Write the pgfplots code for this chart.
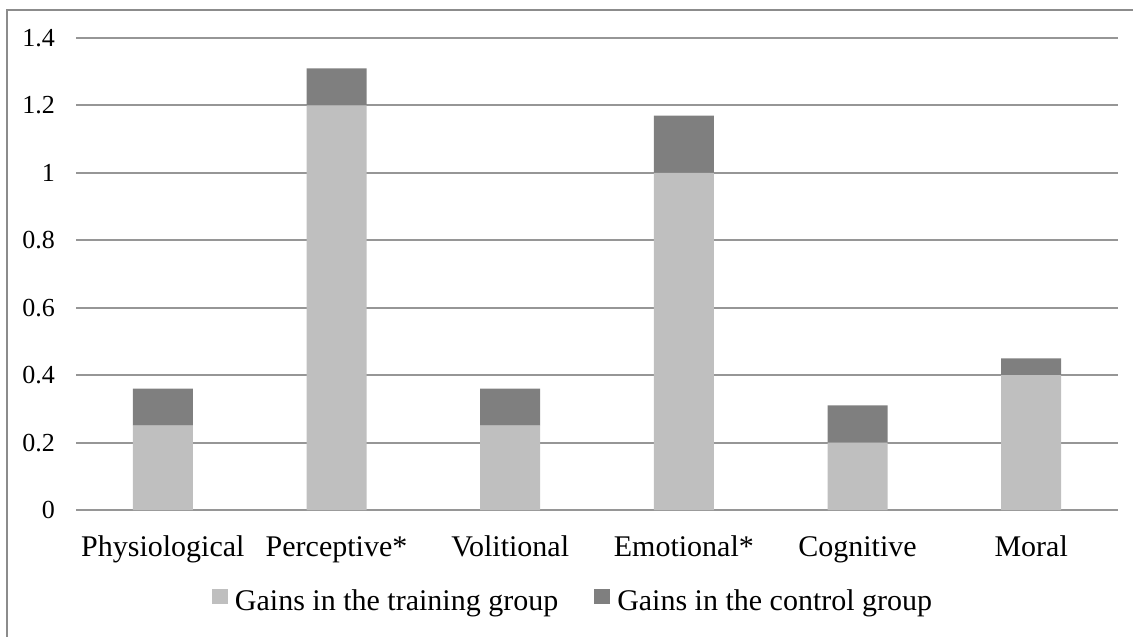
\documentclass[border=0pt]{standalone}
\usepackage{pgfplots}
\pgfplotsset{compat=1.18}
\usepackage{fontspec}
\setmainfont{Liberation Serif}
\definecolor{lightbar}{RGB}{191,191,191}
\definecolor{darkbar}{RGB}{127,127,127}
\definecolor{gridcol}{RGB}{150,150,150}
\definecolor{framecol}{RGB}{140,140,140}
\begin{document}
\begin{tikzpicture}
\draw[framecol, line width=1pt] (3.5pt,-330pt) -- (3.5pt,-5pt) -- (570pt,-5pt);
\begin{axis}[
  at={(38pt,-255pt)}, anchor=south west,
  scale only axis, width=521pt, height=236pt,
  ybar stacked, bar width=30pt,
  xmin=-0.5, xmax=5.5, ymin=0, ymax=1.4,
  ytick={0,0.2,0.4,0.6,0.8,1,1.2,1.4},
  xtick={0,...,5},
  xticklabels={Physiological,Perceptive*,Volitional,Emotional*,Cognitive,Moral},
  axis line style={draw=none},
  major tick length=0pt,
  ymajorgrids, grid style={gridcol, line width=1pt},
  /pgf/number format/assume math mode=true,
  /pgf/number format/fixed,
  yticklabel={\pgfmathprintnumber{\tick}},
  yticklabel style={font=\rmfamily\fontsize{13}{15}\selectfont, anchor=east, xshift=-7pt},
  xticklabel style={font=\rmfamily\fontsize{15}{18}\selectfont, anchor=base, yshift=-23pt},
  legend style={draw=none, fill=none, at={(0.1305,-0.1675)}, anchor=north west,
    legend columns=2, font=\rmfamily\fontsize{15}{18}\selectfont, inner sep=0pt, outer sep=0pt,
    nodes={inner sep=0pt},
    /tikz/every odd column/.append style={column sep=3.5pt},
    /tikz/every even column/.append style={column sep=18pt}},
  legend image code/.code={\fill[#1] (0pt,-1pt) rectangle (8pt,6.5pt);},
]
\addplot[fill=lightbar, draw=none] coordinates {(0,0.25) (1,1.2) (2,0.25) (3,1.0) (4,0.2) (5,0.4)};
\addplot[fill=darkbar, draw=none] coordinates {(0,0.11) (1,0.11) (2,0.11) (3,0.17) (4,0.11) (5,0.05)};
\legend{Gains in the training group, Gains in the control group}
\end{axis}
\pgfresetboundingbox
\useasboundingbox (0pt,0pt) rectangle (566.5pt,-318pt);
\end{tikzpicture}
\end{document}
